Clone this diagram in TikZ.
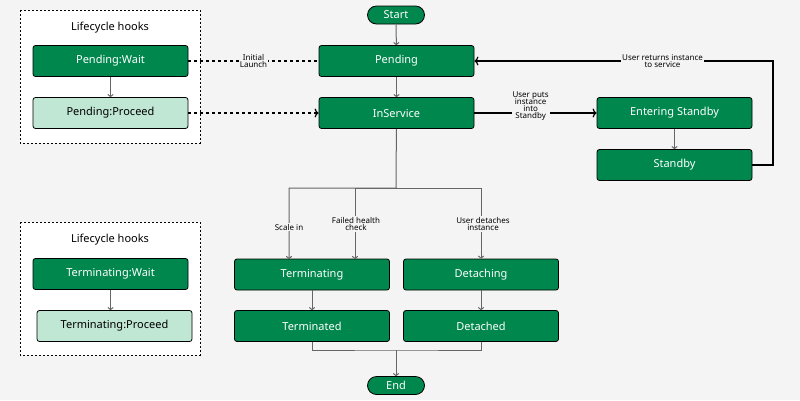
\documentclass[tikz,border=0pt]{standalone}
\usepackage{fontspec}
\setmainfont{Noto Sans}
\usetikzlibrary{arrows.meta}
\definecolor{dgreen}{HTML}{00874D}
\definecolor{lgreen}{HTML}{C0E6D4}
\definecolor{bg}{HTML}{F4F4F4}
\tikzset{
	state/.style  = {draw=black, fill=dgreen, text=white, rounded corners=2.5pt, line width=0.8pt,
		minimum width=155pt, minimum height=31pt, font=\fontsize{11}{13}\selectfont},
	proceed/.style = {state, fill=lgreen, text=black},
	term/.style   = {draw=black, fill=dgreen, text=white, rounded corners=9pt, line width=0.8pt,
		minimum width=57pt, minimum height=18pt, font=\fontsize{11}{13}\selectfont},
	hooks/.style  = {draw, dashed, fill=white, line width=0.7pt, dash pattern=on 2pt off 2pt},
	lbl/.style    = {fill=bg, inner sep=1pt, align=center, font=\fontsize{8}{9}\selectfont},
	flow/.style   = {draw=black!60, line width=1pt, -{To[length=3pt,width=6pt]}},
	link/.style   = {line width=1.2pt, -{To[length=4pt,width=9pt]}}
}
\begin{document}
\begin{tikzpicture}[x=1pt, y=-1pt]
	\fill[bg] (0,0) rectangle (800,400);
	\useasboundingbox (0,0) rectangle (800,400);
	% hook boxes
	\draw[hooks] (20,10) rectangle (200,143);
	\draw[hooks] (20,222) rectangle (200,355);
	\node[font=\fontsize{11}{13}\selectfont] (h1) at (110,28) {Lifecycle hooks};
	\node[font=\fontsize{11}{13}\selectfont] (h2) at (110,240) {Lifecycle hooks};
	\node[state] (pw) at (110.5,61) {Pending:Wait};
	\node[proceed] (pp) at (110.5,113) {Pending:Proceed};
	\node[state] (tw) at (110.5,274) {Terminating:Wait};
	\node[proceed] (tp) at (114.5,326) {Terminating:Proceed};
	\draw[flow] (pw) -- (pp);
	\draw[flow] (tw) -- (tw |- tp.north);

	% main states
	\node[term] (start) at (396,15) {Start};
	\node[state] (pend) at (396.5,61) {Pending};
	\node[state] (insv) at (396.5,113) {InService};
	\node[state] (enst) at (674.5,113) {Entering Standby};
	\node[state] (stby) at (674.5,165) {Standby};
	\node[state] (tmng) at (312,274.5) {Terminating};
	\node[state] (tmed) at (312,326) {Terminated};
	\node[state] (dtch) at (481,274.5) {Detaching};
	\node[state] (dted) at (481,326) {Detached};
	\node[term] (end) at (396,385.5) {End};

	\coordinate (split) at (396,188);
	\coordinate (join) at (396,350);
	\coordinate (ret) at (773,61);

	\draw[flow] (start) -- (pend);
	\draw[flow] (pend) -- (insv);
	\draw[flow] (enst) -- (stby);
	\draw[flow] (tmng) -- (tmed);
	\draw[flow] (dtch) -- (dted);
	\draw[flow] (insv) -- (split) -| (289,259);
	\draw[flow] (split) -| (355,259);
	\draw[flow] (split) -| (dtch);
	\node[lbl] (l1) at (289,227) {Scale in};
	\node[lbl] (l2) at (356,224) {Failed health\\[-2pt]check};
	\node[lbl] (l3) at (483,224) {User detaches\\[-2pt]instance};
	\draw[draw=black!60, line width=1pt] (tmed) |- (join) -| (dted);
	\draw[flow] (join) -- (end);

	% hooks links
	\draw[line width=1.2pt, dash pattern=on 3pt off 3pt] (pw) -- node[lbl] {Initial\\[-2pt]Launch} (pend);
	\draw[link, dash pattern=on 3pt off 3pt] (pp) -- (insv);

	% standby links
	\draw[link] (insv) -- node[lbl, pos=0.46, yshift=7pt] {User puts\\[-2pt]instance\\[-2pt]into\\[-2pt]Standby} (enst);
	\draw[link] (stby.east) -| (ret) -- node[lbl, pos=0.37] {User returns instance\\[-2pt]to service} (pend);
\end{tikzpicture}
\end{document}
